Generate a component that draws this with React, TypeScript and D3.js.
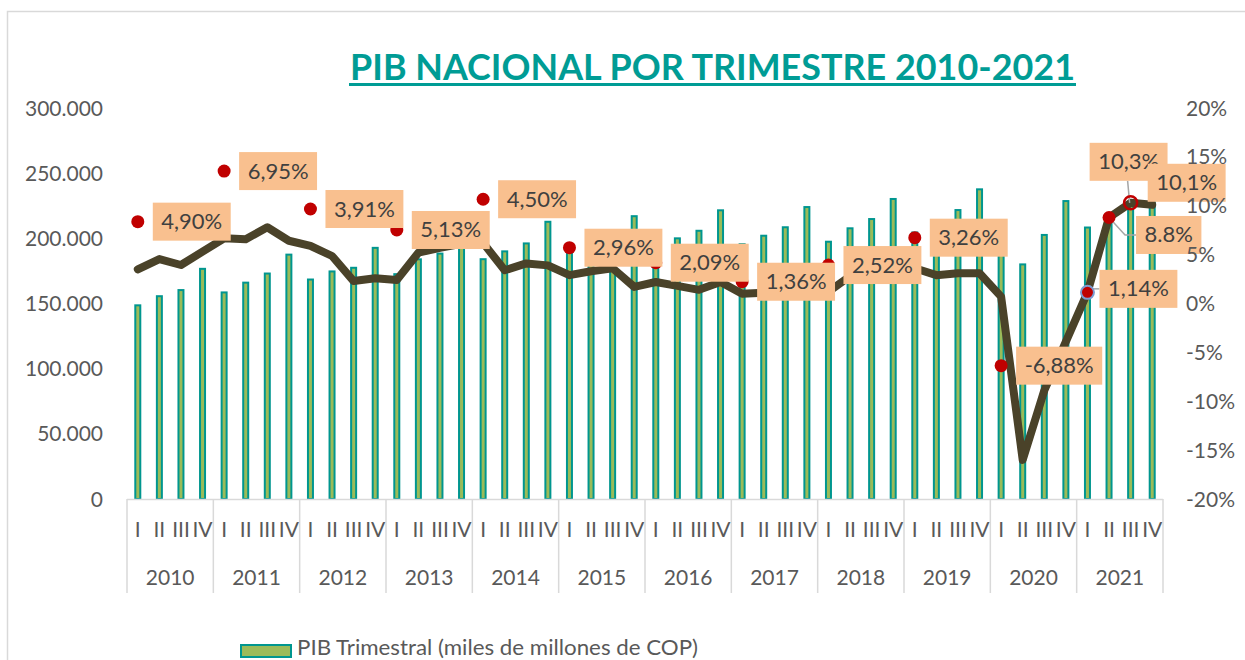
import React, { useEffect, useRef } from 'react';
import * as d3 from 'd3';

const years = ['2010', '2011', '2012', '2013', '2014', '2015', '2016', '2017', '2018', '2019', '2020', '2021'];
const quarters = ['I', 'II', 'III', 'IV'];

// PIB trimestral, miles de millones de COP
const pibTrimestral = [
  148600, 155600, 160300, 176600,
  158500, 166000, 173000, 187500,
  168400, 174600, 177400, 192700,
  172500, 183900, 188300, 204000,
  184000, 190000, 196100, 212700,
  189500, 196300, 203200, 217000,
  193800, 200000, 205800, 221500,
  195500, 202000, 208500, 224000,
  197400, 207700, 214800, 230200,
  204500, 213700, 221700, 237600,
  206000, 180000, 202600, 228600,
  208300, 212000, 227000, 245000,
];

// crecimiento anual trimestral (%), eje derecho
const crecimientoTrimestral = [
  3.5, 4.55, 3.94, 5.3,
  6.67, 6.57, 7.8, 6.42,
  5.9, 4.86, 2.3, 2.58,
  2.4, 5.2, 5.7, 6.1,
  6.2, 3.4, 4.1, 3.9,
  2.9, 3.3, 3.6, 1.7,
  2.2, 1.8, 1.4, 2.2,
  1.0, 1.1, 1.2, 1.1,
  1.2, 2.8, 3.0, 2.8,
  3.6, 2.9, 3.1, 3.1,
  0.7, -16.0, -8.9, -3.9,
  1.14, 8.8, 10.3, 10.1,
];

// puntos rojos del crecimiento anual (altura sobre el eje izquierdo)
const puntosAnuales = [212800, 251600, 222500, 206400, 230000, 192800, 181300, 166700, 179500, 200500, 102300];
const etiquetasAnuales = ['4,90%', '6,95%', '3,91%', '5,13%', '4,50%', '2,96%', '2,09%', '1,36%', '2,52%', '3,26%', '-6,88%'];
const etiquetas2021 = ['1,14%', '8.8%', '10,3%', '10,1%'];

const leftTicks = [0, 50000, 100000, 150000, 200000, 250000, 300000];
const rightTicks = [-20, -15, -10, -5, 0, 5, 10, 15, 20];

const FONT = 'Lato, "Open Sans", sans-serif';
const GRAY = '#595959';

export default function App() {
  const svgRef = useRef<SVGSVGElement>(null);

  useEffect(() => {
    document.body.style.margin = '0';
    if (!svgRef.current) return;
    const svg = d3.select(svgRef.current);
    svg.selectAll('*').remove();

    const cats = years.flatMap(y => quarters.map(q => `${y}-${q}`));
    const x = d3.scaleBand().domain(cats).range([127, 1163]);
    const yL = d3.scaleLinear().domain([0, 300000]).range([499, 108]);
    const yR = d3.scaleLinear().domain([-20, 20]).range([499, 108]);
    const cx = (i: number) => (x(cats[i]) as number) + x.bandwidth() / 2;
    const yearW = x.bandwidth() * 4;

    svg.append('rect').attr('width', 1245).attr('height', 660).attr('fill', '#fff');
    svg.append('rect')
      .attr('x', 7.5).attr('y', 11.5).attr('width', 1300).attr('height', 700)
      .attr('fill', 'none').attr('stroke', '#D9D9D9').attr('stroke-width', 1.5);

    // titulo
    svg.append('text')
      .attr('x', 712.5).attr('y', 80)
      .attr('text-anchor', 'middle')
      .attr('font-family', FONT).attr('font-weight', 700).attr('font-size', 36)
      .attr('fill', '#009C95')
      .attr('textLength', 725).attr('lengthAdjust', 'spacingAndGlyphs')
      .text('PIB NACIONAL POR TRIMESTRE 2010-2021');
    svg.append('rect').attr('x', 349).attr('y', 83).attr('width', 727).attr('height', 3).attr('fill', '#009C95');

    // barras
    svg.append('g').selectAll('rect')
      .data(pibTrimestral)
      .enter().append('rect')
      .attr('x', (d, i) => cx(i) - 2.5)
      .attr('width', 5)
      .attr('y', d => yL(d))
      .attr('height', d => yL(0) - yL(d))
      .attr('fill', '#9BBB59')
      .attr('stroke', '#00968F')
      .attr('stroke-width', 2);

    // eje x
    svg.append('line')
      .attr('x1', 127).attr('x2', 1163).attr('y1', 499.5).attr('y2', 499.5)
      .attr('stroke', '#D9D9D9').attr('stroke-width', 1.5);
    svg.append('g').selectAll('line')
      .data(d3.range(years.length + 1))
      .enter().append('line')
      .attr('x1', d => 127 + d * yearW).attr('x2', d => 127 + d * yearW)
      .attr('y1', 499).attr('y2', 593)
      .attr('stroke', '#D9D9D9').attr('stroke-width', 1.5);
    svg.append('g').selectAll('text')
      .data(cats)
      .enter().append('text')
      .attr('x', (d, i) => cx(i)).attr('y', 537)
      .attr('text-anchor', 'middle')
      .attr('font-family', FONT).attr('font-size', 21).attr('fill', GRAY)
      .text(d => d.split('-')[1]);
    svg.append('g').selectAll('text')
      .data(years)
      .enter().append('text')
      .attr('x', (d, i) => 127 + (i + 0.5) * yearW).attr('y', 585)
      .attr('text-anchor', 'middle')
      .attr('font-family', FONT).attr('font-size', 21).attr('fill', GRAY)
      .text(d => d);

    // linea de crecimiento
    const line = d3.line<number>()
      .x((d, i) => cx(i))
      .y(d => yR(d));
    svg.append('path')
      .datum(crecimientoTrimestral)
      .attr('d', line)
      .attr('fill', 'none')
      .attr('stroke', '#4A4229')
      .attr('stroke-width', 8)
      .attr('stroke-linejoin', 'round')
      .attr('stroke-linecap', 'round');

    const labelBox = (px: number, py: number, text: string) => {
      const g = svg.append('g');
      const r = g.append('rect').attr('x', px).attr('y', py - 19).attr('height', 38).attr('fill', '#F9C08F');
      const t = g.append('text')
        .attr('y', py + 7.5)
        .attr('font-family', FONT).attr('font-size', 22).attr('fill', '#404040')
        .text(text);
      const w = (t.node() as SVGTextElement).getComputedTextLength() + 17;
      r.attr('width', w);
      t.attr('x', px + w / 2).attr('text-anchor', 'middle');
    };

    // puntos anuales
    puntosAnuales.forEach((v, k) => {
      svg.append('circle').attr('cx', cx(k * 4)).attr('cy', yL(v)).attr('r', 6.5).attr('fill', '#C00000');
    });

    // puntos 2021
    const p44 = { x: cx(44), y: yR(crecimientoTrimestral[44]) };
    const p45 = { x: cx(45), y: yR(crecimientoTrimestral[45]) };
    const p46 = { x: cx(46), y: yR(crecimientoTrimestral[46]) };
    const p47 = { x: cx(47), y: yR(crecimientoTrimestral[47]) };
    const leader = (pts: [number, number][]) =>
      svg.append('path').attr('d', d3.line()(pts)).attr('fill', 'none').attr('stroke', '#A6A6A6').attr('stroke-width', 1.5);
    leader([[p44.x, p44.y - 3.5], [p44.x + 12, p44.y - 3.5]]);
    leader([[p45.x, p45.y], [p45.x + 16, p45.y + 17.5], [p45.x + 27, p45.y + 17.5]]);
    leader([[p46.x - 1, p46.y], [p46.x - 3, p46.y - 22]]);
    svg.append('circle').attr('cx', p44.x).attr('cy', p44.y).attr('r', 6.5)
      .attr('fill', '#C00000').attr('stroke', '#7C9BD0').attr('stroke-width', 2);
    svg.append('circle').attr('cx', p45.x).attr('cy', p45.y).attr('r', 6.5).attr('fill', '#C00000');
    svg.append('circle').attr('cx', p46.x).attr('cy', p46.y).attr('r', 6.5)
      .attr('fill', 'none').attr('stroke', '#C00000').attr('stroke-width', 2.5);

    puntosAnuales.forEach((v, k) => labelBox(cx(k * 4) + 15, yL(v), etiquetasAnuales[k]));
    labelBox(p44.x + 12, p44.y - 3.5, etiquetas2021[0]);
    labelBox(p45.x + 27, p45.y + 17.5, etiquetas2021[1]);
    labelBox(p46.x - 41, p46.y - 41, etiquetas2021[2]);
    labelBox(p47.x - 4.5, p47.y - 22, etiquetas2021[3]);

    // ejes y
    const fmt = (d: number) => (d === 0 ? '0' : d3.format(',')(d).replace(/,/g, '.'));
    svg.append('g').selectAll('text')
      .data(leftTicks)
      .enter().append('text')
      .attr('x', 103).attr('y', d => yL(d) + 7.5)
      .attr('text-anchor', 'end')
      .attr('font-family', FONT).attr('font-size', 21).attr('fill', GRAY)
      .text(fmt);
    svg.append('g').selectAll('text')
      .data(rightTicks)
      .enter().append('text')
      .attr('x', 1186).attr('y', d => yR(d) + 7.5)
      .attr('font-family', FONT).attr('font-size', 21).attr('fill', GRAY)
      .text(d => `${d}%`);

    // leyenda
    svg.append('rect').attr('x', 241).attr('y', 645).attr('width', 50).attr('height', 12)
      .attr('fill', '#9BBB59').attr('stroke', '#00968F').attr('stroke-width', 2);
    svg.append('text')
      .attr('x', 297).attr('y', 655)
      .attr('font-family', FONT).attr('font-size', 20.5).attr('fill', GRAY)
      .attr('textLength', 401).attr('lengthAdjust', 'spacingAndGlyphs')
      .text('PIB Trimestral (miles de millones de COP)');
  }, []);

  return <svg ref={svgRef} width={1245} height={660} style={{ display: 'block' }} />;
}
